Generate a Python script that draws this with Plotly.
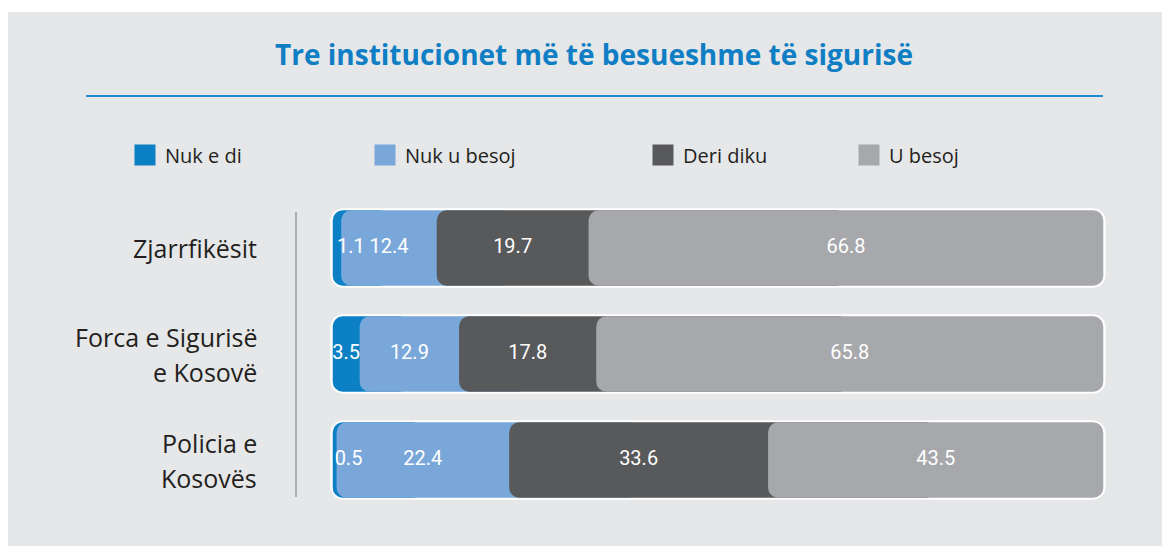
import plotly.graph_objects as go

# ---------------- data ----------------
categories = ["Zjarrfikësit", "Forca e Sigurisë<br>e Kosovë", "Policia e<br>Kosovës"]
series_names = ["Nuk e di", "Nuk u besoj", "Deri diku", "U besoj"]
nuk_e_di = [1.1, 3.5, 0.5]
nuk_u_besoj = [12.4, 12.9, 22.4]
deri_diku = [19.7, 17.8, 33.6]
u_besoj = [66.8, 65.8, 43.5]
title_text = "Tre institucionet më të besueshme të sigurisë"

# ---------------- style ----------------
colors = ["#0b80c4", "#7aa7d9", "#58595b", "#a7a8ab"]
BG = "#e6e7e8"
TEXT = "#231f20"
TITLE_BLUE = "#0f7ec4"
FONT = "Open Sans, Lato, sans-serif"
NUM_FONT = "Roboto, Open Sans, sans-serif"

SW, SH = 1170, 546          # browser window
OX, OY = 8, 8               # default page margin of the html body
FW, FH = SW - OX, SH - OY   # figure size
L, R, T, B = 325, 1111, 195, 513   # plot area in screen px


def px_x(px):
    return (px - L) / (R - L)


def px_y(py):
    return (B - py) / (B - T)


series = [nuk_e_di, nuk_u_besoj, deri_diku, u_besoj]
n = len(categories)
starts = [[0.0] * n for _ in series]
for i in range(n):
    acc = 0.0
    for k, s in enumerate(series):
        starts[k][i] = acc
        acc += s[i]
totals = [sum(s[i] for s in series) for i in range(n)]

BAR_W = 0.71
FRAME_W = 0.75
FRAME_PAD = 0.3
RAD = 10

fig = go.Figure()

# white rounded frame behind each bar
fig.add_trace(go.Bar(y=categories, base=[-FRAME_PAD] * n, x=[t + 2 * FRAME_PAD for t in totals],
                     orientation="h", width=FRAME_W,
                     marker=dict(color="white", cornerradius=RAD + 3, line=dict(width=0)),
                     showlegend=False, hoverinfo="skip"))

# segments: each one rounded, its right end tucked under the next segment
for k, s in enumerate(series):
    if k < len(series) - 1:
        nxt = series[k + 1]
        length = [s[i] + nxt[i] / 2 for i in range(n)]
    else:
        length = list(s)
    fig.add_trace(go.Bar(y=categories, base=starts[k], x=length,
                         orientation="h", width=BAR_W,
                         marker=dict(color=colors[k], cornerradius=RAD, line=dict(width=0)),
                         showlegend=False, hoverinfo="skip", name=series_names[k]))

# value labels
for k, s in enumerate(series):
    xs = [starts[k][i] + s[i] / 2 for i in range(n)]
    pos = ["middle right" if v < 2 else "middle center" for v in s]
    fig.add_trace(go.Scatter(x=xs, y=categories, mode="text", text=[f"{v:.1f}" for v in s],
                             textposition=pos, textfont=dict(color="white", size=20, family=NUM_FONT),
                             showlegend=False, hoverinfo="skip", cliponaxis=False))

# legend entries (one legend per item so each can be positioned)
legend_names = ["legend", "legend2", "legend3", "legend4"]
for k, name in enumerate(series_names):
    fig.add_trace(go.Scatter(x=[None], y=[None], mode="markers", name=name,
                             marker=dict(symbol="square", size=16, color=colors[k],
                                         line=dict(color=colors[k], width=5)),
                             legend=legend_names[k], hoverinfo="skip"))

legend_px = [125, 365, 643, 849]
legend_cfg = {}
for k, ln in enumerate(legend_names):
    legend_cfg[ln] = dict(x=px_x(legend_px[k]), y=px_y(155), xanchor="left", yanchor="middle",
                          orientation="h", bgcolor="rgba(0,0,0,0)", borderwidth=0,
                          font=dict(family=FONT, size=20, color=TEXT))

# category labels (right aligned, one annotation per line)
annotations = []
LINE_H = 35
for i, c in enumerate(categories):
    lines = c.split("<br>")
    m = len(lines)
    for j, line in enumerate(lines):
        annotations.append(dict(x=px_x(259), xref="paper", y=c, yref="y", text=line,
                                xanchor="right", yanchor="middle", showarrow=False,
                                yshift=((m - 1) / 2 - j) * LINE_H,
                                font=dict(family=FONT, size=25, color=TEXT)))

shapes = [
    # grey panel
    dict(type="rect", xref="paper", yref="paper", x0=px_x(8), x1=px_x(SW + 5), y0=px_y(12), y1=px_y(SH + 5),
         fillcolor=BG, line=dict(width=0), layer="below"),
    # rule under the title
    dict(type="line", xref="paper", yref="paper", x0=px_x(86), x1=px_x(1103), y0=px_y(96), y1=px_y(96),
         line=dict(color="#2189cf", width=2)),
    # vertical separator
    dict(type="line", xref="paper", yref="paper", x0=px_x(296), x1=px_x(296), y0=px_y(212), y1=px_y(497),
         line=dict(color="#8a8a8c", width=1.2)),
]

fig.update_layout(
    width=FW, height=FH,
    margin=dict(l=L - OX, r=SW - R, t=T - OY, b=SH - B, pad=0, autoexpand=False),
    paper_bgcolor="white", plot_bgcolor="rgba(0,0,0,0)",
    barmode="overlay",
    title=dict(text="<b>" + title_text + "</b>", x=(594 - OX) / FW, xref="container", xanchor="center",
               y=1 - (55 - OY) / FH, yref="container", yanchor="middle",
               font=dict(family=FONT, size=28, color=TITLE_BLUE)),
    xaxis=dict(range=[-1, 101], visible=False, fixedrange=True),
    yaxis=dict(categoryorder="array", categoryarray=categories, range=[n - 0.5, -0.5],
               visible=False, fixedrange=True),
    annotations=annotations,
    shapes=shapes,
    **legend_cfg,
)

fig.write_html("out.html")
